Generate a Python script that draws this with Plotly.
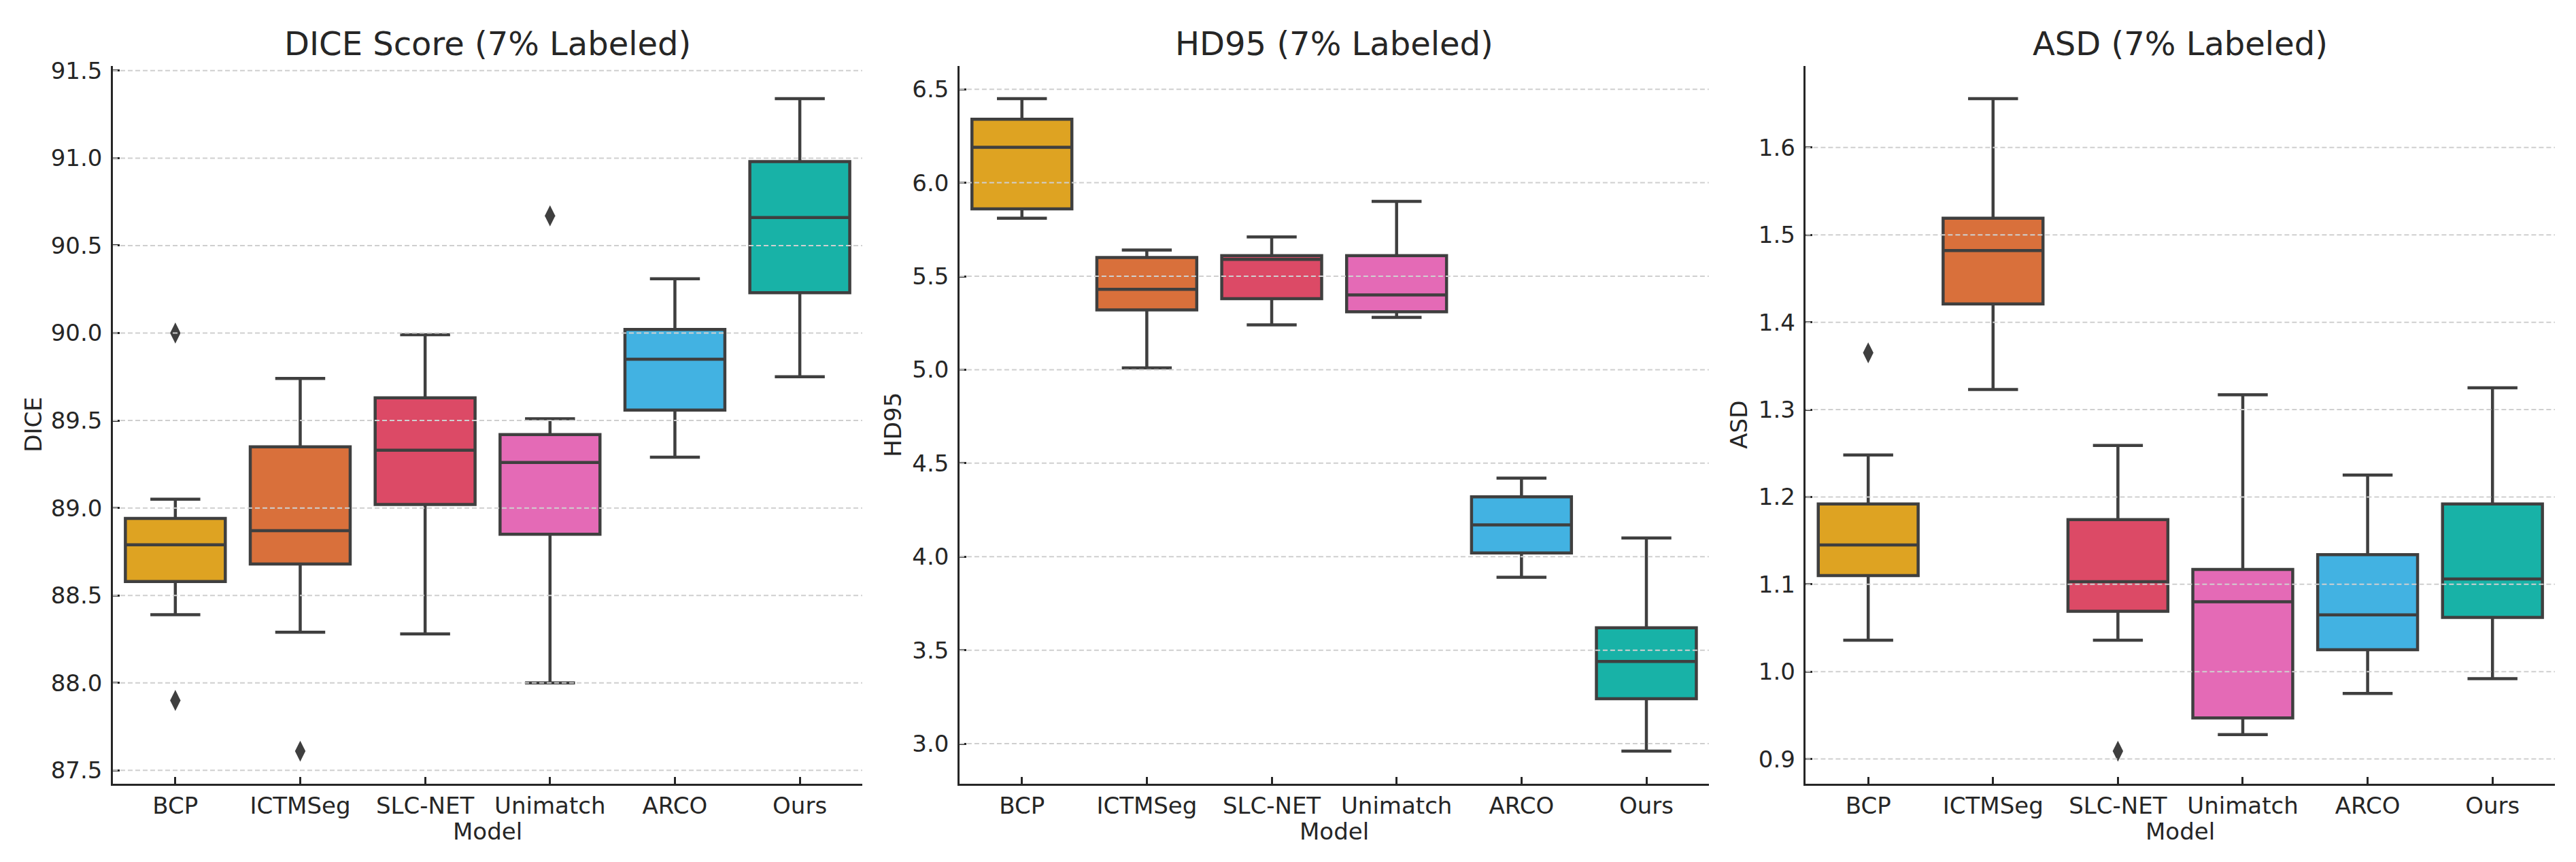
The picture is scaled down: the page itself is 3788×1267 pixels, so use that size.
import plotly.graph_objects as go
from plotly.subplots import make_subplots

models = ['BCP', 'ICTMSeg', 'SLC-NET', 'Unimatch', 'ARCO', 'Ours']
colors = ['#DEA322', '#D9703B', '#DC4A66', '#E46AB6', '#42B2E2', '#18B2A7']

# DICE score, 7% labeled
dice_low = [88.39, 88.29, 88.28, 88.00, 89.29, 89.75]
dice_q1 = [88.58, 88.68, 89.02, 88.85, 89.56, 90.23]
dice_med = [88.79, 88.87, 89.33, 89.26, 89.85, 90.66]
dice_q3 = [88.94, 89.35, 89.63, 89.42, 90.02, 90.98]
dice_high = [89.05, 89.74, 89.99, 89.51, 90.31, 91.34]
dice_out_model = ['BCP', 'BCP', 'ICTMSeg', 'Unimatch']
dice_out_val = [90.00, 87.90, 87.61, 90.67]
dice_ticks = [87.5, 88.0, 88.5, 89.0, 89.5, 90.0, 90.5, 91.0, 91.5]

# HD95
hd_low = [5.81, 5.01, 5.24, 5.28, 3.89, 2.96]
hd_q1 = [5.86, 5.32, 5.38, 5.31, 4.02, 3.24]
hd_med = [6.19, 5.43, 5.59, 5.40, 4.17, 3.44]
hd_q3 = [6.34, 5.60, 5.61, 5.61, 4.32, 3.62]
hd_high = [6.45, 5.64, 5.71, 5.90, 4.42, 4.10]
hd_out_model = []
hd_out_val = []
hd_ticks = [3.0, 3.5, 4.0, 4.5, 5.0, 5.5, 6.0, 6.5]

# ASD
asd_low = [1.036, 1.323, 1.036, 0.928, 0.975, 0.992]
asd_q1 = [1.110, 1.421, 1.069, 0.947, 1.025, 1.062]
asd_med = [1.145, 1.482, 1.103, 1.080, 1.065, 1.106]
asd_q3 = [1.192, 1.519, 1.174, 1.117, 1.134, 1.192]
asd_high = [1.248, 1.656, 1.259, 1.317, 1.225, 1.325]
asd_out_model = ['BCP', 'SLC-NET']
asd_out_val = [1.365, 0.909]
asd_ticks = [0.9, 1.0, 1.1, 1.2, 1.3, 1.4, 1.5, 1.6]

panels = [
    ('DICE Score (7% Labeled)', 'DICE', dice_low, dice_q1, dice_med, dice_q3, dice_high, dice_out_model, dice_out_val, dice_ticks),
    ('HD95 (7% Labeled)', 'HD95', hd_low, hd_q1, hd_med, hd_q3, hd_high, hd_out_model, hd_out_val, hd_ticks),
    ('ASD (7% Labeled)', 'ASD', asd_low, asd_q1, asd_med, asd_q3, asd_high, asd_out_model, asd_out_val, asd_ticks),
]

W, H = 3788, 1267
ML, MR, MT, MB = 166, 31, 97, 115
domains = [[0.0, 0.30686], [0.34667, 0.65353], [0.69323, 1.0]]
ylab_x = [-0.0328, 0.3192, 0.6656]

TXT = '#262626'
EDGE = '#3f3f3f'
FONT = 'DejaVu Sans'

fig = make_subplots(rows=1, cols=3)

for n, (title, ylab, low, q1, med, q3, high, out_m, out_v, ticks) in enumerate(panels, start=1):
    for i, m in enumerate(models):
        fig.add_trace(go.Box(x=[i], q1=[q1[i]], median=[med[i]], q3=[q3[i]],
                             lowerfence=[low[i]], upperfence=[high[i]],
                             fillcolor=colors[i], line=dict(color=EDGE, width=4.5),
                             width=0.8, whiskerwidth=0.5, boxpoints=False,
                             name=m, showlegend=False), row=1, col=n)
    if out_m:
        fig.add_trace(go.Scatter(x=[models.index(m) for m in out_m], y=out_v, mode='markers',
                                 marker=dict(symbol='diamond-tall', size=22, color=EDGE),
                                 showlegend=False), row=1, col=n)
    # matplotlib-like autoscale with 5% margins
    vals = low + high + out_v
    span = max(vals) - min(vals)
    yr = [min(vals) - 0.05 * span, max(vals) + 0.05 * span]
    sfx = '' if n == 1 else str(n)
    fig.update_layout(**{
        'xaxis' + sfx: dict(domain=domains[n - 1], range=[-0.5, 5.5], tickvals=list(range(len(models))),
                            ticktext=models, showgrid=False, zeroline=False, showline=True,
                            linecolor=TXT, linewidth=2.5, ticks='inside', ticklen=10, tickwidth=2.5,
                            tickcolor=TXT, tickfont=dict(size=34, color=TXT, family=FONT)),
        'yaxis' + sfx: dict(range=yr, tickvals=ticks, tickformat='.1f', showgrid=False, zeroline=False,
                            showline=True, linecolor=TXT, linewidth=2.5, ticks='inside', ticklen=10,
                            tickwidth=2.5, tickcolor=TXT, ticklabelstandoff=6,
                            tickfont=dict(size=34, color=TXT, family=FONT)),
    })
    # dashed grid drawn over the boxes
    for v in ticks:
        fig.add_shape(type='line', xref='x%s domain' % sfx, yref='y%s' % sfx, x0=0, x1=1, y0=v, y1=v,
                      line=dict(color='#cfcfcf', width=2, dash='7px,4px'), layer='above')
    xc = (domains[n - 1][0] + domains[n - 1][1]) / 2
    fig.add_annotation(text=title, xref='paper', yref='paper', x=xc, y=1.031, showarrow=False,
                       xanchor='center', yanchor='middle', font=dict(size=48, color=TXT, family=FONT))
    fig.add_annotation(text='Model', xref='paper', yref='paper', x=xc, y=-0.0663, showarrow=False,
                       xanchor='center', yanchor='middle', font=dict(size=34, color=TXT, family=FONT))
    fig.add_annotation(text=ylab, xref='paper', yref='paper', x=ylab_x[n - 1], y=0.5, showarrow=False,
                       textangle=-90, xanchor='center', yanchor='middle',
                       font=dict(size=34, color=TXT, family=FONT))

fig.update_layout(width=W, height=H, margin=dict(l=ML, r=MR, t=MT, b=MB, pad=0),
                  plot_bgcolor='white', paper_bgcolor='white', boxmode='overlay',
                  font=dict(family=FONT, color=TXT))

fig.write_html('out.html', config={'displayModeBar': False},
               post_script="document.body.style.margin='0px';")
